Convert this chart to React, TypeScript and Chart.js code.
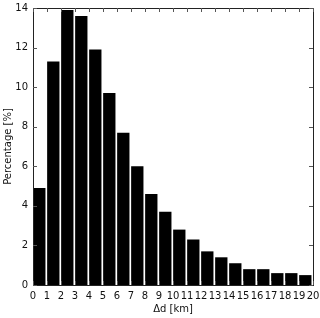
import React, { useEffect, useRef } from "react";
import { Chart, registerables } from "chart.js";

Chart.register(...registerables);

const binStarts = [0, 1, 2, 3, 4, 5, 6, 7, 8, 9, 10, 11, 12, 13, 14, 15, 16, 17, 18, 19];
const percentages = [4.9, 11.3, 13.9, 13.6, 11.9, 9.7, 7.7, 6.0, 4.6, 3.7, 2.8, 2.3, 1.7, 1.4, 1.1, 0.8, 0.8, 0.6, 0.6, 0.5];
const xTicks = [0, 1, 2, 3, 4, 5, 6, 7, 8, 9, 10, 11, 12, 13, 14, 15, 16, 17, 18, 19, 20];
const yTicks = [0, 2, 4, 6, 8, 10, 12, 14];
const xTitle = "Δd [km]";
const yTitle = "Percentage [%]";

const FONT = "'DejaVu Sans', sans-serif";

const framePlugin = {
  id: "frame",
  afterDatasetsDraw(chart: any) {
    const { ctx, chartArea, scales } = chart;
    const { left, right, top, bottom } = chartArea;
    ctx.save();
    ctx.strokeStyle = "#222";
    ctx.lineWidth = 1;
    ctx.strokeRect(Math.round(left) + 0.5, Math.round(top) + 0.5, Math.round(right - left), Math.round(bottom - top));
    ctx.strokeStyle = "#555";
    const L = 4;
    ctx.beginPath();
    for (const t of xTicks) {
      const x = Math.round(scales.x.getPixelForValue(t)) + 0.5;
      ctx.moveTo(x, bottom);
      ctx.lineTo(x, bottom - L);
      ctx.moveTo(x, top);
      ctx.lineTo(x, top + L);
    }
    for (const t of yTicks) {
      const y = Math.round(scales.y.getPixelForValue(t)) + 0.5;
      ctx.moveTo(left, y);
      ctx.lineTo(left + L, y);
      ctx.moveTo(right, y);
      ctx.lineTo(right - L, y);
    }
    ctx.stroke();
    ctx.restore();
  },
};

export default function App() {
  const ref = useRef<HTMLCanvasElement | null>(null);
  useEffect(() => {
    document.body.style.margin = "0";
    const canvas = ref.current!;
    const chart = new Chart(canvas, {
      type: "bar",
      data: {
        datasets: [
          {
            data: binStarts.map((s, i) => ({ x: s + 0.45, y: percentages[i] })),
            backgroundColor: "#000",
            borderWidth: 0,
            barPercentage: 0.88,
            categoryPercentage: 1,
          },
        ],
      },
      options: {
        animation: false,
        responsive: false,
        maintainAspectRatio: false,
        layout: { padding: { top: 8, right: 7, left: 0, bottom: 0 } },
        plugins: { legend: { display: false }, tooltip: { enabled: false } },
        scales: {
          x: {
            type: "linear",
            min: 0,
            max: 20,
            offset: false,
            afterBuildTicks: (s: any) => {
              s.ticks = xTicks.map((v) => ({ value: v }));
            },
            afterFit: (s: any) => {
              s.height = 33;
              s.paddingLeft = 0;
              s.paddingRight = 0;
            },
            grid: { display: false, drawTicks: false, offset: false },
            border: { display: false },
            ticks: {
              autoSkip: false,
              maxRotation: 0,
              padding: 5,
              color: "#111",
              font: { family: FONT, size: 10 },
            },
            title: {
              display: true,
              text: xTitle,
              color: "#111",
              font: { family: FONT, size: 10 },
              padding: { top: 0, bottom: 3 },
            },
          },
          y: {
            min: 0,
            max: 14,
            afterBuildTicks: (s: any) => {
              s.ticks = yTicks.map((v) => ({ value: v }));
            },
            afterFit: (s: any) => {
              s.width = 33;
              s.paddingTop = 0;
              s.paddingBottom = 0;
            },
            grid: { display: false, drawTicks: false },
            border: { display: false },
            ticks: {
              padding: 5,
              color: "#111",
              font: { family: FONT, size: 10 },
            },
            title: {
              display: true,
              text: yTitle,
              color: "#111",
              font: { family: FONT, size: 10 },
              padding: { top: 2, bottom: 0 },
            },
          },
        },
      },
      plugins: [framePlugin],
    } as any);
    return () => chart.destroy();
  }, []);
  return (
    <div style={{ width: 320, height: 318 }}>
      <canvas ref={ref} width={320} height={318} style={{ width: 320, height: 318 }} />
    </div>
  );
}
